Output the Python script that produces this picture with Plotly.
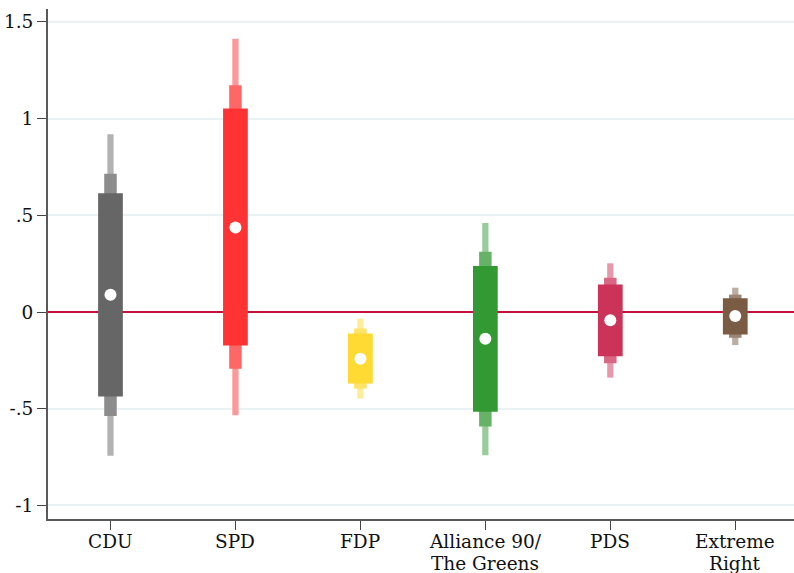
import plotly.graph_objects as go

parties_line1 = ["CDU", "SPD", "FDP", "Alliance 90/", "PDS", "Extreme"]
parties_line2 = ["", "", "", "The Greens", "", "Right"]
positions = [1, 2, 3, 4, 5, 6]

point_est = [0.09, 0.437, -0.241, -0.138, -0.042, -0.020]
thick_lo = [-0.436, -0.173, -0.370, -0.516, -0.228, -0.116]
thick_hi = [0.614, 1.053, -0.111, 0.238, 0.142, 0.071]
mid_lo = [-0.537, -0.293, -0.396, -0.592, -0.265, -0.133]
mid_hi = [0.715, 1.173, -0.085, 0.312, 0.178, 0.090]
thin_lo = [-0.743, -0.533, -0.447, -0.740, -0.339, -0.171]
thin_hi = [0.920, 1.413, -0.034, 0.460, 0.252, 0.126]

base_colors = ["#666666", "#ff3333", "#ffda33", "#339933", "#cc3358", "#7a5c45"]

ytick_vals = [-1, -0.5, 0, 0.5, 1, 1.5]
ytick_text = ["-1", "-.5", "0", ".5", "1", "1.5"]


def blend(hexc, a):
    h = hexc.lstrip("#")
    r, g, b = (int(h[i:i + 2], 16) for i in (0, 2, 4))
    f = lambda c: round(a * c + (1 - a) * 255)
    return "#%02x%02x%02x" % (f(r), f(g), f(b))


FONT = "DejaVu Serif"
FS = 18.5

fig = go.Figure()

for lo, hi, w, a in [(thin_lo, thin_hi, 0.05, 0.5),
                     (mid_lo, mid_hi, 0.1, 0.75),
                     (thick_lo, thick_hi, 0.198, 1.0)]:
    fig.add_trace(go.Bar(
        x=positions,
        base=lo,
        y=[h - l for h, l in zip(hi, lo)],
        width=w,
        marker=dict(color=[blend(c, a) for c in base_colors], line=dict(width=0)),
        showlegend=False,
        hoverinfo="skip",
    ))

fig.add_trace(go.Scatter(
    x=positions, y=point_est, mode="markers",
    marker=dict(color="white", size=12, line=dict(width=0)),
    showlegend=False, hoverinfo="skip",
))

annotations = []
for xp, l1, l2 in zip(positions, parties_line1, parties_line2):
    annotations.append(dict(x=xp, xref="x", y=-0.0437, yref="paper", text=l1,
                            showarrow=False, yanchor="middle", xanchor="center",
                            borderpad=0,
                            font=dict(family=FONT, size=FS, color="#111111")))
    if l2:
        annotations.append(dict(x=xp, xref="x", y=-0.0877, yref="paper", text=l2,
                                showarrow=False, yanchor="middle", xanchor="center",
                                borderpad=0,
                                font=dict(family=FONT, size=FS, color="#111111")))

fig.update_layout(
    width=794, height=573,
    margin=dict(l=48, r=0, t=9, b=54),
    plot_bgcolor="white", paper_bgcolor="white",
    barmode="overlay",
    font=dict(family=FONT, size=FS, color="#111111"),
    annotations=annotations,
    xaxis=dict(
        range=[0.5, 6.47], tickvals=positions, showticklabels=False,
        ticks="outside", ticklen=9, tickwidth=1.3, tickcolor="#444444",
        showline=True, linecolor="#5a5a5a", linewidth=2,
        showgrid=False, zeroline=False, fixedrange=True,
    ),
    yaxis=dict(
        range=[-1.07, 1.567], tickvals=ytick_vals, ticktext=ytick_text,
        ticks="outside", ticklen=9, tickwidth=1.3, tickcolor="#444444",
        showline=True, linecolor="#5a5a5a", linewidth=2,
        showgrid=True, gridcolor="#eaf1f3", gridwidth=1.5,
        zeroline=True, zerolinecolor="#c8103c", zerolinewidth=2,
        tickfont=dict(family=FONT, size=FS, color="#111111"),
        fixedrange=True,
    ),
)

fig.write_html("out.html")
